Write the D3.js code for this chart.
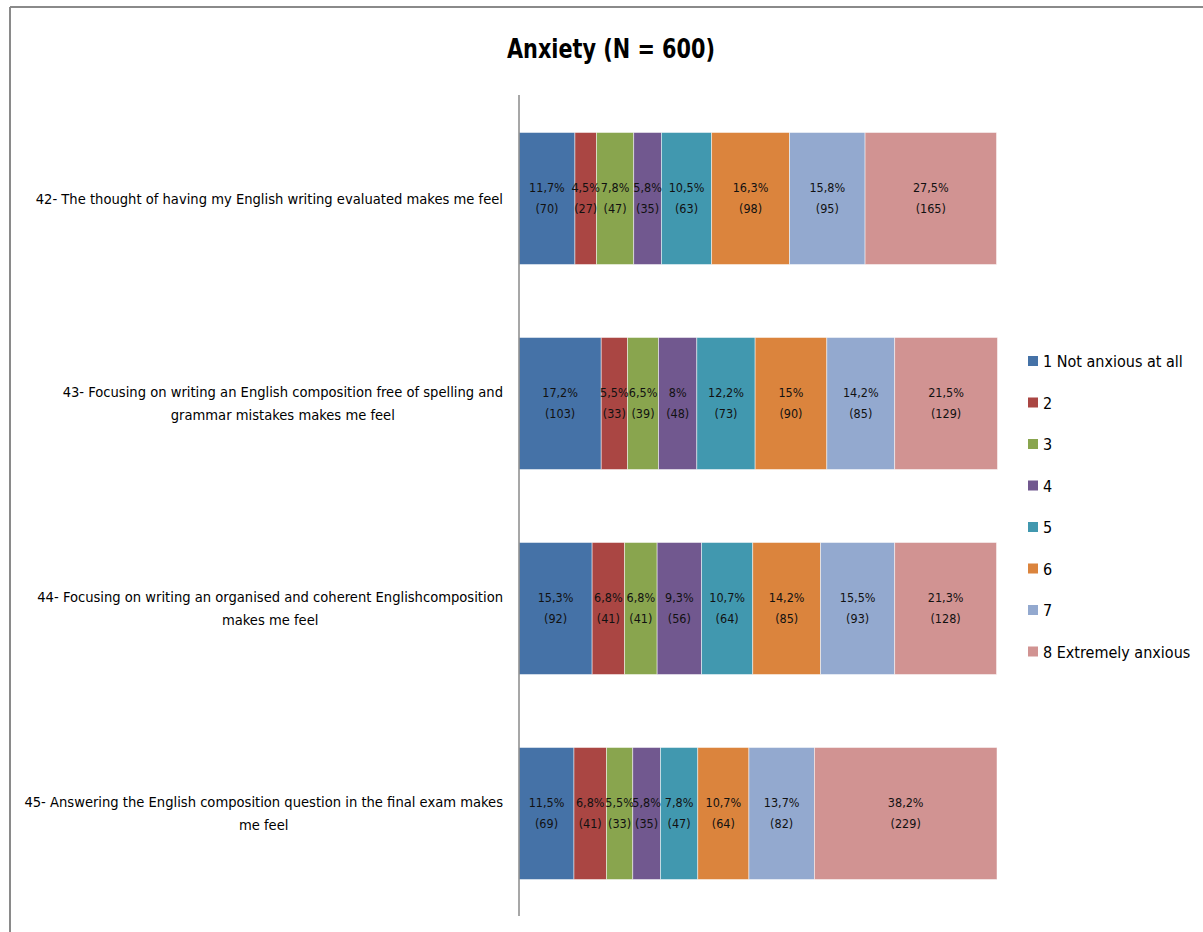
<!DOCTYPE html>
<html>
<head>
<meta charset="utf-8">
<script src="https://cdn.jsdelivr.net/npm/d3@7"></script>
<style>
  html, body { margin: 0; padding: 0; background: #fff; }
  svg { display: block; font-family: "Liberation Sans Narrow", "DejaVu Sans Condensed", "Liberation Sans", sans-serif; }
</style>
</head>
<body>
<svg id="chart" width="1203" height="932"></svg>
<script>
// Questionnaire items (each label split into its display lines)
const items = [
  ["42- The thought  of having my English writing  evaluated makes me feel"],
  ["43- Focusing on writing  an English composition  free of spelling and", "grammar mistakes makes me feel"],
  ["44- Focusing on writing  an organised and coherent  Englishcomposition", "makes me feel"],
  ["45- Answering  the English composition  question  in the final exam makes", "me feel"]
];

const levels = ["1 Not anxious at all", "2", "3", "4", "5", "6", "7", "8 Extremely anxious"];

// Percentage of respondents per level, one array per item
const pct42 = [11.7, 4.5, 7.8, 5.8, 10.5, 16.3, 15.8, 27.5];
const pct43 = [17.2, 5.5, 6.5, 8, 12.2, 15, 14.2, 21.5];
const pct44 = [15.3, 6.8, 6.8, 9.3, 10.7, 14.2, 15.5, 21.3];
const pct45 = [11.5, 6.8, 5.5, 5.8, 7.8, 10.7, 13.7, 38.2];

// Respondent counts per level
const n42 = [70, 27, 47, 35, 63, 98, 95, 165];
const n43 = [103, 33, 39, 48, 73, 90, 85, 129];
const n44 = [92, 41, 41, 56, 64, 85, 93, 128];
const n45 = [69, 41, 33, 35, 47, 64, 82, 229];

const pctRows = [pct42, pct43, pct44, pct45];
const nRows = [n42, n43, n44, n45];

const colors = ["#4572A7", "#AA4643", "#89A54E", "#71588F", "#4198AF", "#DB843D", "#93A9CF", "#D19392"];

const svg = d3.select("#chart");

// Frame
svg.append("line").attr("x1", 10).attr("x2", 10).attr("y1", 7).attr("y2", 932)
  .attr("stroke", "#8a8a8a").attr("stroke-width", 2);
svg.append("line").attr("x1", 10).attr("x2", 1203).attr("y1", 7).attr("y2", 7)
  .attr("stroke", "#8a8a8a").attr("stroke-width", 2);

// Title
svg.append("text")
  .attr("x", 611).attr("y", 58)
  .attr("text-anchor", "middle")
  .attr("font-size", 27).attr("font-weight", "bold")
  .attr("textLength", 208).attr("lengthAdjust", "spacingAndGlyphs")
  .attr("fill", "#000")
  .text("Anxiety (N = 600)");

const plot = { left: 519, right: 997, top: 96, bottom: 916 };

const x = d3.scaleLinear().domain([0, 100]).range([plot.left, plot.right]);
const y = d3.scaleBand().domain(d3.range(items.length))
  .range([plot.top, plot.bottom]).paddingInner(0.356).paddingOuter(0.178);

// Stack the segments of each row
const rows = pctRows.map((p, i) => {
  let acc = 0;
  return p.map((v, j) => {
    const seg = { row: i, level: j, x0: acc, x1: acc + v, pct: v, n: nRows[i][j] };
    acc += v;
    return seg;
  });
});

const g = svg.append("g");
rows.forEach(segs => {
  const rg = g.append("g");
  rg.selectAll("rect").data(segs).join("rect")
    .attr("x", d => x(d.x0))
    .attr("y", d => y(d.row))
    .attr("width", d => x(d.x1) - x(d.x0))
    .attr("height", y.bandwidth())
    .attr("fill", d => colors[d.level])
    .attr("stroke", "#ffffff").attr("stroke-opacity", 0.6).attr("stroke-width", 0.8);

  const lab = rg.selectAll("text").data(segs).join("text")
    .attr("text-anchor", "middle")
    .attr("font-size", 12.5)
    .attr("fill", "#111");
  lab.append("tspan")
    .attr("x", d => (x(d.x0) + x(d.x1)) / 2)
    .attr("y", d => y(d.row) + y.bandwidth() / 2 - 7)
    .text(d => String(d.pct).replace(".", ",") + "%");
  lab.append("tspan")
    .attr("x", d => (x(d.x0) + x(d.x1)) / 2)
    .attr("y", d => y(d.row) + y.bandwidth() / 2 + 14)
    .text(d => "(" + d.n + ")");
});

// Category axis line
svg.append("line")
  .attr("x1", plot.left).attr("x2", plot.left)
  .attr("y1", plot.top - 1).attr("y2", plot.bottom)
  .attr("stroke", "#8a8a8a").attr("stroke-width", 1.5);

// Category labels: centred block with its right edge near the axis
items.forEach((lines, i) => {
  const t = svg.append("text")
    .attr("font-size", 14.6)
    .attr("fill", "#000")
    .attr("text-anchor", "middle");
  const cy = y(i) + y.bandwidth() / 2;
  const lh = 23;
  const tmp = t.append("tspan").text(lines[0]);
  const w = tmp.node().getComputedTextLength();
  tmp.remove();
  const cx = 503 - w / 2;
  lines.forEach((ln, k) => {
    t.append("tspan")
      .attr("x", cx)
      .attr("y", cy + 5 + (k - (lines.length - 1) / 2) * lh)
      .text(ln);
  });
});

// Legend
const leg = svg.append("g");
levels.forEach((name, j) => {
  const ly = 361 + j * 41.5;
  leg.append("rect").attr("x", 1028).attr("y", ly - 5).attr("width", 10).attr("height", 10)
    .attr("fill", colors[j]);
  leg.append("text").attr("x", 1043).attr("y", ly + 6)
    .attr("font-size", 16).attr("fill", "#000")
    .text(name);
});
</script>
</body>
</html>
